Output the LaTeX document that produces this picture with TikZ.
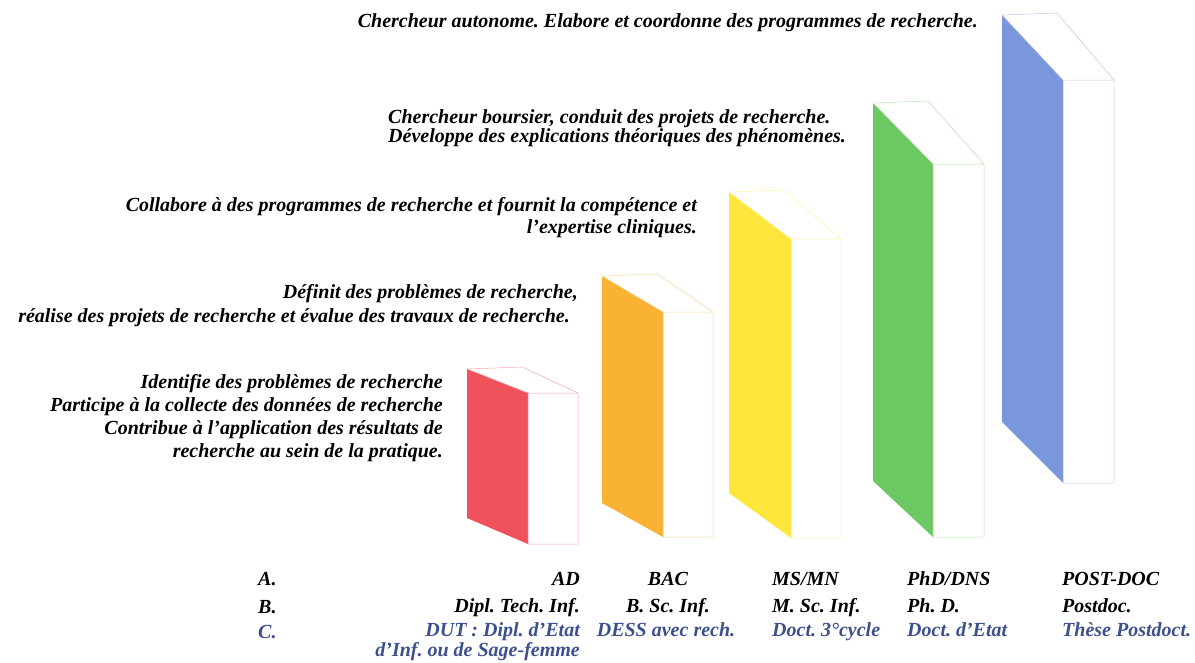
\documentclass[tikz,border=0pt]{standalone}
\usepackage{fontspec}
\setmainfont{Liberation Serif}
\usetikzlibrary{calc}
\frenchspacing
\definecolor{cred}{RGB}{240,82,92}
\definecolor{corange}{RGB}{250,178,52}
\definecolor{cyellow}{RGB}{255,230,60}
\definecolor{cgreen}{RGB}{108,200,98}
\definecolor{cblue}{RGB}{122,150,220}
\definecolor{ctxtblue}{RGB}{60,80,142}
\newcommand\prismbox[8]{%
  % #1 colour, #2 left x, #3 left top y, #4 left bottom y, #5 front left x, #6 front right x, #7 front top y, #8 front bottom y
  \fill[#1] (#2,#3) -- (#5,#7) -- (#5,#8) -- (#2,#4) -- cycle;
  \draw[#1!50, line width=0.5pt, line join=round]
    (#2,#3) -- ($(#2,#3)+(55,-2)$) -- (#6,#7) -- (#5,#7) -- cycle
    (#5,#7) -- (#5,#8) -- (#6,#8) -- (#6,#7);
}
\begin{document}
\begin{tikzpicture}[x=1pt,y=-1pt,
  txt/.style={font=\fontsize{20}{23}\selectfont\bfseries\itshape, inner sep=0pt},
  bluetxt/.style={txt, text=ctxtblue}]
\useasboundingbox (0,0) rectangle (1195,662);
\fill[white] (0,0) rectangle (1195,662);
% boxes
\prismbox{cred}{467}{369}{518}{528}{578}{393}{544}
\prismbox{corange}{602}{276}{503}{663}{713}{312}{537}
\prismbox{cyellow}{729}{192}{493}{791}{841}{239}{538}
\prismbox{cgreen}{873}{103}{481}{933}{984}{164}{537}
\prismbox{cblue}{1002}{15}{422}{1063}{1114}{80}{483}
% descriptions
\node[txt, anchor=mid east] (t5) at (978,25) {Chercheur autonome. Elabore et coordonne des programmes de recherche.};
\node[txt, anchor=mid west] (t4a) at (388,121) {Chercheur boursier, conduit des projets de recherche.};
\node[txt, anchor=mid west] (t4b) at (388,140) {Développe des explications théoriques des phénomènes.};
\node[txt, anchor=mid east] (t3a) at (697,209) {Collabore à des programmes de recherche et fournit la compétence et};
\node[txt, anchor=mid east] (t3b) at (697,231) {l’expertise cliniques.};
\node[txt, anchor=mid east] (t2a) at (578,296) {Définit des problèmes de recherche,};
\node[txt, anchor=mid east] (t2b) at (570,320) {réalise des projets de recherche et évalue des travaux de recherche.};
\node[txt, anchor=mid east] (t1a) at (443,386) {Identifie des problèmes de recherche};
\node[txt, anchor=mid east] (t1b) at (443,409) {Participe à la collecte des données de recherche};
\node[txt, anchor=mid east] (t1c) at (443,432) {Contribue à l’application des résultats de};
\node[txt, anchor=mid east] (t1d) at (443,455) {recherche au sein de la pratique.};
% row labels
\node[txt, anchor=mid west] (la) at (258,583) {A.};
\node[txt, anchor=mid west] (lb) at (258,611) {B.};
\node[bluetxt, anchor=mid west] (lc) at (258,636) {C.};
% column 1
\node[txt, anchor=mid east] (a1) at (580,583) {AD};
\node[txt, anchor=mid east] (b1) at (580,610) {Dipl. Tech. Inf.};
\node[bluetxt, anchor=mid east] (c1) at (580,634) {DUT : Dipl. d’Etat};
\node[bluetxt, anchor=mid east] (c1b) at (580,654) {d’Inf. ou de Sage-femme};
% column 2
\node[txt, anchor=mid] (a2) at (668,583) {BAC};
\node[txt, anchor=mid] (b2) at (668,610) {B. Sc. Inf.};
\node[bluetxt, anchor=mid] (c2) at (666,634) {DESS avec rech.};
% column 3
\node[txt, anchor=mid west] (a3) at (772,583) {MS/MN};
\node[txt, anchor=mid west] (b3) at (772,610) {M. Sc. Inf.};
\node[bluetxt, anchor=mid west] (c3) at (772,634) {Doct. 3°cycle};
% column 4
\node[txt, anchor=mid west] (a4) at (907,583) {PhD/DNS};
\node[txt, anchor=mid west] (b4) at (907,610) {Ph. D.};
\node[bluetxt, anchor=mid west] (c4) at (907,634) {Doct. d’Etat};
% column 5
\node[txt, anchor=mid west] (a5) at (1062,583) {POST-DOC};
\node[txt, anchor=mid west] (b5) at (1062,610) {Postdoc.};
\node[bluetxt, anchor=mid west] (c5) at (1062,634) {Thèse Postdoct.};
\end{tikzpicture}
\end{document}
